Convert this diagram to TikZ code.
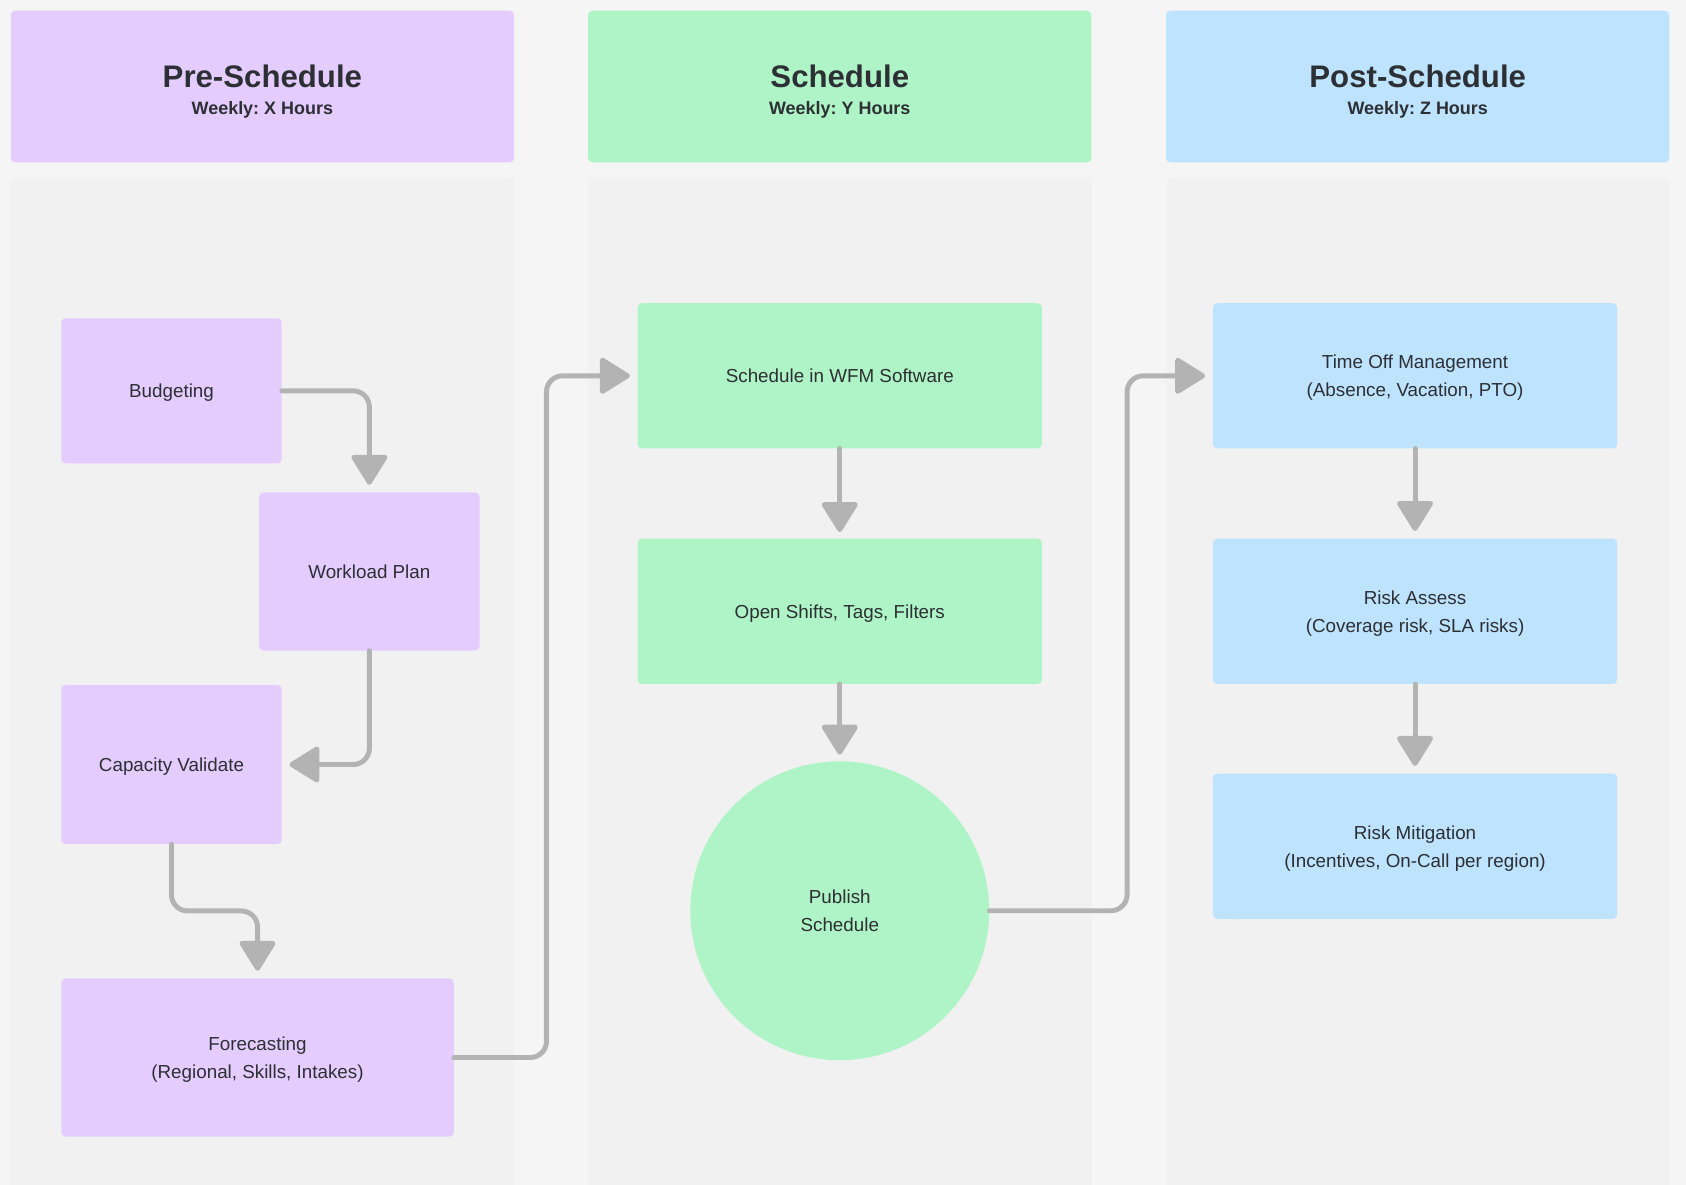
\documentclass[tikz,border=0pt]{standalone}
\usepackage{fontspec}
\setmainfont{Liberation Sans}
\usetikzlibrary{arrows.meta,shapes.geometric}
\frenchspacing
\definecolor{pagebg}{HTML}{F5F5F5}
\definecolor{colbg}{HTML}{F1F1F1}
\definecolor{pur}{HTML}{E4CCFF}
\definecolor{grn}{HTML}{AFF4C6}
\definecolor{blu}{HTML}{BDE3FF}
\definecolor{txt}{HTML}{2C2F33}
\definecolor{arr}{HTML}{B3B3B3}
\begin{document}
\begin{tikzpicture}[x=1pt,y=-1pt,
  box/.style={rectangle,rounded corners=4pt,inner sep=0pt,align=center,text=txt,
    text depth=0pt,font=\fontsize{17.5}{26}\selectfont},
  pbox/.style={box,fill=pur},
  gbox/.style={box,fill=grn},
  bbox/.style={box,fill=blu},
  head/.style={rectangle,rounded corners=4pt,inner sep=0pt,minimum width=468pt,minimum height=141pt},
  colrect/.style={fill=colbg,rounded corners=4pt},
  htitle/.style={anchor=base,text=txt,font=\fontsize{29}{34}\selectfont\bfseries},
  hsub/.style={anchor=base,text=txt,font=\fontsize{16.7}{20}\selectfont\bfseries},
  conn/.style={draw=arr,line width=4.6pt,rounded corners=15pt,line cap=round,
    -{Triangle[width=36pt,length=30pt,round]},shorten >=7pt},
]
\useasboundingbox (0,0) rectangle (1568,1102);
\fill[pagebg] (0,0) rectangle (1568,1102);
% column backgrounds
\fill[colrect] (10,165) rectangle (478,1110);
\fill[colrect] (547,165) rectangle (1015,1110);
\fill[colrect] (1085,165) rectangle (1552,1110);
% headers
\node[head,fill=pur] (hpre) at (244,80.5) {};
\node[head,fill=grn] (hsch) at (781,80.5) {};
\node[head,fill=blu] (hpost) at (1318.5,80.5) {};
\node[htitle] (tpre) at (244,81) {Pre-Schedule};
\node[hsub] (spre) at (244,106.5) {Weekly: X Hours};
\node[htitle] (tsch) at (781,81) {Schedule};
\node[hsub] (ssch) at (781,106.5) {Weekly: Y Hours};
\node[htitle] (tpost) at (1318.5,81) {Post-Schedule};
\node[hsub] (spost) at (1318.5,106.5) {Weekly: Z Hours};
% pre-schedule nodes
\node[pbox,minimum width=205pt,minimum height=135pt] (bud) at (159.5,363.5) {Budgeting};
\node[pbox,minimum width=205pt,minimum height=147pt] (wl) at (343.5,531.5) {Workload Plan};
\node[pbox,minimum width=205pt,minimum height=148pt] (cap) at (159.5,711) {Capacity Validate};
\node[pbox,minimum width=365pt,minimum height=147pt] (fc) at (239.5,983.5) {Forecasting\\(Regional, Skills, Intakes)};
% schedule nodes
\node[gbox,minimum width=376pt,minimum height=135pt] (wfm) at (781,349.5) {Schedule in WFM Software};
\node[gbox,minimum width=376pt,minimum height=135pt] (open) at (781,568.5) {Open Shifts, Tags, Filters};
\node[circle,fill=grn,minimum size=278pt,inner sep=0pt,align=center,text=txt,text depth=0pt,
  font=\fontsize{17.5}{26}\selectfont] (pub) at (781,847) {Publish\\Schedule};
% post-schedule nodes
\node[bbox,minimum width=376pt,minimum height=135pt] (toff) at (1316,349.5) {Time Off Management\\(Absence, Vacation, PTO)};
\node[bbox,minimum width=376pt,minimum height=135pt] (ra) at (1316,568.5) {Risk Assess\\(Coverage risk, SLA risks)};
\node[bbox,minimum width=376pt,minimum height=135pt] (rm) at (1316,787) {Risk Mitigation\\(Incentives, On-Call per region)};
% connectors
\draw[conn] (bud.east) -| (wl.north);
\draw[conn] (wl.south) |- (cap.east);
\draw[conn] (cap.south) -- ++(0,62) -| (fc.north);
\draw[conn] (fc.east) -- ++(86,0) |- (wfm.west);
\draw[conn,shorten >=6pt] (wfm.south) -- (open.north);
\draw[conn,shorten >=6pt] (open.south) -- (pub.north);
\draw[conn] (pub.east) -- ++(128,0) |- (toff.west);
\draw[conn,shorten >=7pt] (toff.south) -- (ra.north);
\draw[conn,shorten >=7pt] (ra.south) -- (rm.north);
\end{tikzpicture}
\end{document}
